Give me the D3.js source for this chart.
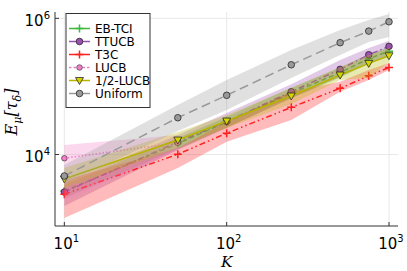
<!DOCTYPE html>
<html>
<head>
<meta charset="utf-8">
<script src="https://d3js.org/d3.v7.min.js"></script>
<style>
  body { margin: 0; background: #fff; }
  text { font-family: "DejaVu Sans", sans-serif; fill: #000; }
  .math { font-family: "DejaVu Serif", serif; font-style: italic; }
</style>
</head>
<body>
<svg id="chart" width="407" height="271"></svg>
<script>
// Data
const kValues = [10, 50, 100, 250, 500, 750, 1000];

const ebtciMean = [2900, 14500, 30000, 80000, 160000, 255000, 330000];
const ebtciLo   = [2300, 12000, 25000, 67000, 135000, 215000, 285000];
const ebtciHi   = [3600, 17500, 36000, 96000, 190000, 300000, 380000];

const ttucbMean = [2810, 15300, 30500, 83600, 178000, 292000, 388000];
const ttucbLo   = [1750, 11600, 24500, 67600, 137000, 221000, 273000];
const ttucbHi   = [3820, 19300, 40600, 108000, 244000, 366000, 469000];

const t3cMean = [2610, 10070, 20500, 49300, 93700, 143000, 190000];
const t3cLo   = [1170, 6330, 15400, 32100, 83600, 124000, 174000];
const t3cHi   = [4230, 12500, 30300, 83600, 117000, 174000, 221000];

const lucbMean = [8800, 14900, null, null, null, null, null];
const lucbLo   = [2150, 11600, null, null, null, null, null];
const lucbHi   = [13800, 19300, null, null, null, null, null];

const halfMean = [4370, 16300, 31000, 72300, 147000, 218000, 282000];
const halfLo   = [3220, 12500, 24500, 55200, 124000, 133000, 228000];
const halfHi   = [6330, 21400, 38000, 94700, 193000, 289000, 366000];

const unifMean = [4830, 34700, 74000, 208000, 439000, 650000, 891000];
const unifLo   = [3690, 22100, 45000, 133000, 289000, 449000, 531000];
const unifHi   = [7010, 53300, 124000, 343000, 673000, 944000, 1160000];

const xTicks = [10, 100, 1000];
const yTicks = [1e4, 1e6];

// Series table built from the arrays above
const series = [
  { name: "EB-TCI",   mean: ebtciMean, lo: ebtciLo, hi: ebtciHi, color: "#3db83d", dash: "5,3",             marker: "plus" },
  { name: "TTUCB",    mean: ttucbMean, lo: ttucbLo, hi: ttucbHi, color: "#9b4fb0", dash: "6,3,1.5,3",       marker: "circle" },
  { name: "T3C",      mean: t3cMean,   lo: t3cLo,   hi: t3cHi,   color: "#ff1f1f", dash: "6,3,1.5,3,1.5,3", marker: "plus" },
  { name: "LUCB",     mean: lucbMean,  lo: lucbLo,  hi: lucbHi,  color: "#f27fc6", dash: "1.5,2",           marker: "small" },
  { name: "1/2-LUCB", mean: halfMean,  lo: halfLo,  hi: halfHi,  color: "#b5b500", dash: null,              marker: "tri" },
  { name: "Uniform",  mean: unifMean,  lo: unifLo,  hi: unifHi,  color: "#999999", dash: "9,5",             marker: "circle" }
];

// Plot area
const plotLeft = 55, plotRight = 398, plotTop = 12, plotBottom = 226;

const xScale = d3.scaleLog().domain([8.76, 1136]).range([plotLeft, plotRight]);
const yScale = d3.scaleLog().domain([890, 1.24e6]).range([plotBottom, plotTop]);

const svg = d3.select("#chart");

svg.append("defs").append("clipPath").attr("id", "clip")
  .append("rect")
  .attr("x", plotLeft).attr("y", plotTop)
  .attr("width", plotRight - plotLeft).attr("height", plotBottom - plotTop);

// Grid lines
svg.selectAll(".xgrid").data(xTicks).enter().append("line")
  .attr("x1", d => xScale(d)).attr("x2", d => xScale(d))
  .attr("y1", plotTop).attr("y2", plotBottom)
  .attr("stroke", "#e8e8e8").attr("stroke-width", 1);

svg.selectAll(".ygrid").data(yTicks).enter().append("line")
  .attr("x1", plotLeft).attr("x2", plotRight)
  .attr("y1", d => yScale(d)).attr("y2", d => yScale(d))
  .attr("stroke", "#e8e8e8").attr("stroke-width", 1);

const plot = svg.append("g").attr("clip-path", "url(#clip)");

function drawMarker(g, s, x, y) {
  if (s.marker === "plus") {
    g.append("path")
      .attr("d", "M" + (x - 4) + "," + y + "H" + (x + 4) + "M" + x + "," + (y - 4) + "V" + (y + 4))
      .attr("stroke", s.color).attr("stroke-width", 1.5);
  } else if (s.marker === "circle") {
    g.append("circle").attr("cx", x).attr("cy", y).attr("r", 3.3)
      .attr("fill", s.color).attr("stroke", "#2a2a2a").attr("stroke-width", 0.8);
  } else if (s.marker === "small") {
    g.append("circle").attr("cx", x).attr("cy", y).attr("r", 2.8)
      .attr("fill", s.color).attr("stroke", "#2a2a2a").attr("stroke-width", 0.6);
  } else if (s.marker === "tri") {
    g.append("path")
      .attr("d", "M" + (x - 4) + "," + (y - 3) + "L" + (x + 4) + "," + (y - 3) + "L" + x + "," + (y + 4) + "Z")
      .attr("fill", "#d4d400").attr("stroke", "#2a2a2a").attr("stroke-width", 0.8);
  }
}

// Each series: ribbon, line, then markers
series.forEach(function(s) {
  const pts = kValues.map((k, i) => ({ k: k, m: s.mean[i], lo: s.lo[i], hi: s.hi[i] }))
    .filter(d => d.m != null);

  const area = d3.area()
    .x(d => xScale(d.k))
    .y0(d => yScale(d.lo))
    .y1(d => yScale(d.hi));

  plot.append("path")
    .datum(pts)
    .attr("d", area)
    .attr("fill", s.color)
    .attr("fill-opacity", 0.3);

  const line = d3.line().x(d => xScale(d.k)).y(d => yScale(d.m));

  plot.append("path")
    .datum(pts)
    .attr("d", line)
    .attr("fill", "none")
    .attr("stroke", s.color)
    .attr("stroke-width", 1.5)
    .attr("stroke-dasharray", s.dash);

  pts.forEach(function(d) {
    drawMarker(plot, s, xScale(d.k), yScale(d.m));
  });
});

// Axes lines and ticks
svg.append("line").attr("x1", plotLeft).attr("x2", plotRight).attr("y1", plotBottom).attr("y2", plotBottom)
  .attr("stroke", "#333").attr("stroke-width", 1);
svg.append("line").attr("x1", plotLeft).attr("x2", plotLeft).attr("y1", plotTop).attr("y2", plotBottom)
  .attr("stroke", "#333").attr("stroke-width", 1);

svg.selectAll(".xtick").data(xTicks).enter().append("line")
  .attr("x1", d => xScale(d)).attr("x2", d => xScale(d))
  .attr("y1", plotBottom).attr("y2", plotBottom - 4)
  .attr("stroke", "#333");
svg.selectAll(".ytick").data(yTicks).enter().append("line")
  .attr("x1", plotLeft).attr("x2", plotLeft + 4)
  .attr("y1", d => yScale(d)).attr("y2", d => yScale(d))
  .attr("stroke", "#333");

// Tick labels (10^n)
xTicks.forEach(function(t) {
  const txt = svg.append("text")
    .attr("x", xScale(t) + 2).attr("y", 248.5)
    .attr("text-anchor", "middle")
    .style("font-size", "15px");
  txt.append("tspan").text("10");
  txt.append("tspan").attr("dy", -7).style("font-size", "10px").text(Math.round(Math.log10(t)));
});

yTicks.forEach(function(t) {
  const txt = svg.append("text")
    .attr("x", 50).attr("y", yScale(t) + 8)
    .attr("text-anchor", "end")
    .style("font-size", "15px");
  txt.append("tspan").text("10");
  txt.append("tspan").attr("dy", -7).style("font-size", "10px").text(Math.round(Math.log10(t)));
});

// Axis titles
svg.append("text").attr("class", "math")
  .attr("x", xScale(100)).attr("y", 267)
  .attr("text-anchor", "middle")
  .style("font-size", "15.5px")
  .text("K");

const ylab = svg.append("text").attr("class", "math")
  .attr("transform", "translate(17,112) rotate(-90)")
  .attr("text-anchor", "middle")
  .style("font-size", "16px");
ylab.append("tspan").text("E");
ylab.append("tspan").attr("dy", 4).style("font-size", "11px").text("μ");
ylab.append("tspan").attr("dy", -4).text("[τ");
ylab.append("tspan").attr("dy", 4).style("font-size", "11px").text("δ");
ylab.append("tspan").attr("dy", -4).text("]");

// Legend
const legend = svg.append("g").attr("id", "legend");
legend.append("rect")
  .attr("x", 66).attr("y", 13.5)
  .attr("width", 84).attr("height", 94)
  .attr("fill", "#fff").attr("stroke", "#333").attr("stroke-width", 1);

series.forEach(function(s, i) {
  const y = 28.5 + i * 13;
  legend.append("line")
    .attr("x1", 69).attr("x2", 90).attr("y1", y).attr("y2", y)
    .attr("stroke", s.color).attr("stroke-width", 1.5)
    .attr("stroke-dasharray", s.marker === "small" ? "2.5,2" : null);
  drawMarker(legend, s, 79.5, y);
  legend.append("text")
    .attr("x", 95).attr("y", y + 4.5)
    .style("font-size", "12px")
    .text(s.name);
});
</script>
</body>
</html>
